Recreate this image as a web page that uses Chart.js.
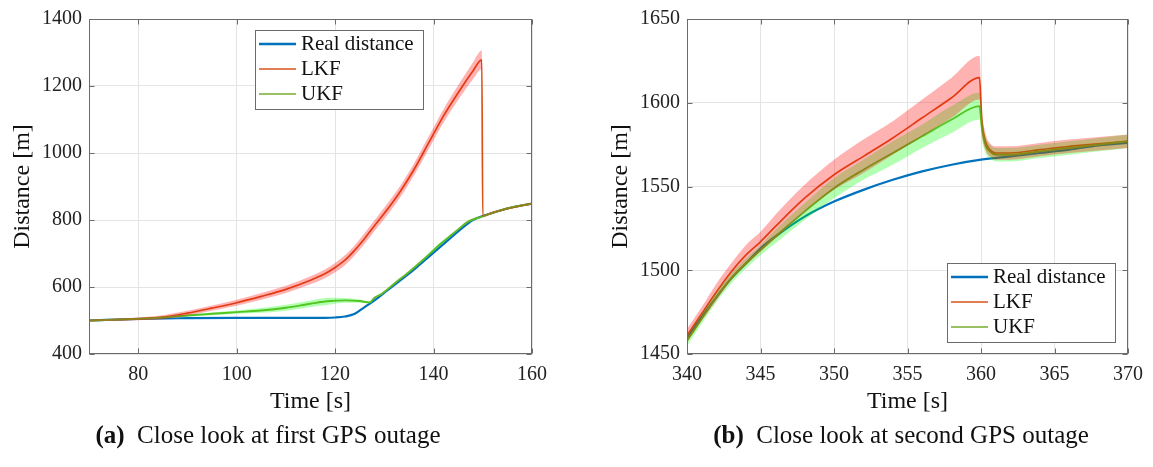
<!DOCTYPE html>
<html lang="en">
  <head>
    <meta charset="UTF-8" />
    <script src="https://cdn.jsdelivr.net/npm/chart.js@4.4.1/dist/chart.umd.min.js"></script>
    <title>GPS outage close look</title>
    <style>
      body { margin: 0; background: #fff; width: 1153px; height: 467px; overflow: hidden; position: relative; font-family: "Liberation Serif", serif; }
      canvas { position: absolute; top: 0; }
      .caption { position: absolute; top: 421px; font-size: 25px; color: #111; white-space: nowrap; transform: translateX(-50%); }
    </style>
  </head>
  <body>
    <canvas id="chartA" width="560" height="425" style="left:0"></canvas>
    <canvas id="chartB" width="577" height="425" style="left:576px"></canvas>
    <div class="caption" style="left:268px"><b>(a)</b>&nbsp; Close look at first GPS outage</div>
    <div class="caption" style="left:901px"><b>(b)</b>&nbsp; Close look at second GPS outage</div>
    <script>
      const seriesNames = ["Real distance", "LKF", "UKF"];
      const seriesColors = ["#0072BD", "#D95319", "#77AC30"];

      // panel (a) - first outage
      const timeRealA = [70, 80, 90, 100, 110, 118, 120, 122, 124, 126, 128, 130, 133, 136, 139, 142, 145, 148, 150, 153, 156, 160];
      const realA = [500, 505, 507, 508, 508, 508, 509, 512, 520, 540, 560, 583, 617, 652, 690, 728, 766, 800, 812, 826, 838, 849];
      const timeLkfA = [70, 80, 85, 90, 95, 100, 105, 110, 115, 118, 120, 122, 124, 126, 128, 130, 133, 136, 139, 142, 145, 148, 149.8, 150, 152, 155, 160];
      const lkfA = [500, 505, 510, 522, 537, 553, 572, 593, 620, 640, 658, 680, 710, 745, 783, 820, 880, 950, 1030, 1110, 1180, 1245, 1278, 812, 822, 834, 849];
      const lkfBandA = [2, 4, 6, 7, 8, 9, 10, 11, 12, 13, 14, 15, 15, 16, 16, 17, 17, 18, 19, 20, 22, 25, 28, 3, 3, 3, 3];
      const timeUkfA = [70, 80, 85, 90, 95, 100, 105, 110, 115, 119, 122, 125, 127, 128, 129.5, 132, 135, 138, 141.5, 143, 145, 147, 150, 153, 156, 160];
      const ukfA = [500, 505, 509, 515, 520, 525, 530, 538, 550, 558, 560, 558, 554, 568, 580, 610, 645, 683, 730, 748, 772, 795, 811, 826, 838, 849];
      const ukfBandA = [1, 2, 2, 3, 4, 5, 7, 9, 10, 10, 7, 5, 3, 2, 2, 2, 2, 3, 4, 3, 2, 2, 2, 2, 2, 2];
      const xTicksA = [80, 100, 120, 140, 160];
      const yTicksA = [400, 600, 800, 1000, 1200, 1400];

      // panel (b) - second outage
      const timeRealB = [340, 341, 342, 343, 344, 345, 346, 348, 350, 352, 354, 356, 358, 360, 362, 364, 366, 368, 370];
      const realB = [1460, 1472, 1484, 1495, 1504, 1513, 1520, 1532, 1541, 1548, 1554, 1559, 1563, 1566, 1568, 1570, 1572, 1574.5, 1576];
      const timeFiltB = [340, 341, 342, 343, 344, 345, 346, 348, 350, 352, 354, 356, 358, 359.9, 360.05, 360.3, 360.6, 361, 362, 364, 366, 368, 370];
      const lkfB = [1461, 1474, 1487, 1499, 1509, 1517, 1526, 1543, 1557, 1568, 1579, 1591, 1603, 1615, 1590, 1577, 1572, 1570, 1570, 1572, 1574, 1575.5, 1577];
      const lkfBandB = [4, 4, 5, 5, 6, 6, 7, 8, 9, 10, 10, 11, 12, 13, 8, 5, 4, 4, 4, 4, 4, 4, 4];
      const ukfB = [1458, 1471, 1484, 1495, 1504, 1512, 1520, 1535, 1549, 1560, 1570, 1580, 1590, 1598, 1586, 1575, 1571, 1569, 1569, 1571, 1573, 1575, 1577];
      const ukfBandB = [3, 3, 3, 3, 3, 3, 4, 5, 6, 6, 7, 7, 8, 8, 7, 5, 4, 4, 4, 4, 4, 4, 4];
      const xTicksB = [340, 345, 350, 355, 360, 365, 370];
      const yTicksB = [1450, 1500, 1550, 1600, 1650];

      const FONT = "'Liberation Serif', serif";

      function pts(ts, vs, band, sign) {
        return ts.map((t, i) => ({ x: t, y: vs[i] + (band ? sign * band[i] : 0) }));
      }

      function bandSets(ts, vs, band, color) {
        return [
          { data: pts(ts, vs, band, 1), fill: "+1", backgroundColor: color, borderWidth: 0, pointRadius: 0, order: 0, cubicInterpolationMode: "monotone" },
          { data: pts(ts, vs, band, -1), fill: false, borderWidth: 0, pointRadius: 0, order: 0, cubicInterpolationMode: "monotone" },
        ];
      }

      function lineSet(i, ts, vs, w, ord) {
        return { label: seriesNames[i], data: pts(ts, vs), borderColor: seriesColors[i], borderWidth: w, pointRadius: 0, fill: false, order: ord, cubicInterpolationMode: "monotone" };
      }

      // box around axes, inner ticks and legend placed in the plot
      const decoPlugin = {
        id: "deco",
        afterDatasetsDraw(chart) {
          const { ctx, chartArea: a, scales } = chart;
          const L = Math.round(a.left) + 0.5, R = Math.round(a.right) - 0.5;
          const T = Math.round(a.top) + 0.5, B = Math.round(a.bottom) - 0.5;
          ctx.save();
          ctx.strokeStyle = "#6b6b6b";
          ctx.lineWidth = 1;
          ctx.strokeRect(L, T, R - L, B - T);
          ctx.beginPath();
          scales.x.ticks.forEach((tk) => {
            const p = Math.round(scales.x.getPixelForValue(tk.value)) + 0.5;
            ctx.moveTo(p, B); ctx.lineTo(p, B - 5);
            ctx.moveTo(p, T); ctx.lineTo(p, T + 5);
          });
          scales.y.ticks.forEach((tk) => {
            const p = Math.round(scales.y.getPixelForValue(tk.value)) + 0.5;
            ctx.moveTo(L, p); ctx.lineTo(L + 5, p);
            ctx.moveTo(R, p); ctx.lineTo(R - 5, p);
          });
          ctx.stroke();
          ctx.restore();
        },
        afterDraw(chart, args, opts) {
          const { ctx, chartArea: a } = chart;
          ctx.save();
          ctx.font = "21px " + FONT;
          const tw = Math.max(...seriesNames.map((n) => ctx.measureText(n).width));
          const w = Math.round(4 + 37 + 5 + tw + 9);
          const h = 79;
          const x0 = Math.round(a.left + opts.left);
          const y0 = Math.round(opts.top != null ? a.top + opts.top : a.bottom - opts.bottom - h);
          ctx.fillStyle = "#fff";
          ctx.fillRect(x0, y0, w, h);
          ctx.strokeStyle = "#6b6b6b";
          ctx.lineWidth = 1;
          ctx.strokeRect(x0 + 0.5, y0 + 0.5, w, h);
          seriesNames.forEach((n, i) => {
            const cy = y0 + 14 + i * 25;
            ctx.strokeStyle = seriesColors[i];
            ctx.lineWidth = i === 0 ? 2.4 : 1.6;
            ctx.beginPath();
            ctx.moveTo(x0 + 4, cy); ctx.lineTo(x0 + 41, cy);
            ctx.stroke();
            ctx.fillStyle = "#111";
            ctx.textBaseline = "middle";
            ctx.fillText(n, x0 + 46, cy);
          });
          ctx.restore();
        },
      };

      function makeChart(id, cfg) {
        return new Chart(document.getElementById(id), {
          type: "line",
          data: {
            datasets: [
              ...bandSets(cfg.tf1, cfg.lkf, cfg.lkfBand, "rgba(255,0,0,0.3)"),
              ...bandSets(cfg.tf2, cfg.ukf, cfg.ukfBand, "rgba(0,255,0,0.3)"),
              lineSet(0, cfg.tr, cfg.real, 2.2, 3),
              lineSet(1, cfg.tf1, cfg.lkf, 1.7, 2),
              lineSet(2, cfg.tf2, cfg.ukf, 1.9, 1),
            ],
          },
          options: {
            responsive: false,
            animation: false,
            devicePixelRatio: 1,
            layout: { padding: { top: 16, right: cfg.padRight, left: 0, bottom: 0 } },
            plugins: { legend: { display: false }, tooltip: { enabled: false }, deco: cfg.legend },
            scales: {
              x: {
                type: "linear",
                min: cfg.xMin, max: cfg.xMax,
                afterBuildTicks: (s) => { s.ticks = cfg.xTicks.map((v) => ({ value: v })); },
                afterFit: (s) => { s.height = 71; },
                grid: { color: "#e4e4e4", drawTicks: false },
                border: { display: false },
                ticks: { padding: 9, color: "#222", font: { family: FONT, size: 20 }, maxRotation: 0, callback: (v) => String(v) },
                title: { display: true, text: "Time [s]", color: "#111", font: { family: FONT, size: 24 }, padding: { top: 0, bottom: 9 } },
              },
              y: {
                min: cfg.yMin, max: cfg.yMax,
                afterBuildTicks: (s) => { s.ticks = cfg.yTicks.map((v) => ({ value: v })); },
                afterFit: (s) => { s.width = cfg.yWidth; },
                grid: { color: "#e4e4e4", drawTicks: false },
                border: { display: false },
                ticks: { padding: 7, color: "#222", font: { family: FONT, size: 20 }, callback: (v) => String(v) },
                title: { display: true, text: "Distance [m]", color: "#111", font: { family: FONT, size: 24 }, padding: { top: cfg.yTitlePad, bottom: 0 } },
              },
            },
          },
          plugins: [decoPlugin],
        });
      }

      makeChart("chartA", {
        tr: timeRealA, real: realA, tf1: timeLkfA, lkf: lkfA, lkfBand: lkfBandA, tf2: timeUkfA, ukf: ukfA, ukfBand: ukfBandA,
        xMin: 70, xMax: 160, yMin: 400, yMax: 1400, xTicks: xTicksA, yTicks: yTicksA,
        yWidth: 89, padRight: 28, yTitlePad: 8, legend: { left: 166, top: 11 },
      });

      makeChart("chartB", {
        tr: timeRealB, real: realB, tf1: timeFiltB, lkf: lkfB, lkfBand: lkfBandB, tf2: timeFiltB, ukf: ukfB, ukfBand: ukfBandB,
        xMin: 340, xMax: 370, yMin: 1450, yMax: 1650, xTicks: xTicksB, yTicks: yTicksB,
        yWidth: 111, padRight: 25, yTitlePad: 30, legend: { left: 260, bottom: 12 },
      });
    </script>
  </body>
</html>
